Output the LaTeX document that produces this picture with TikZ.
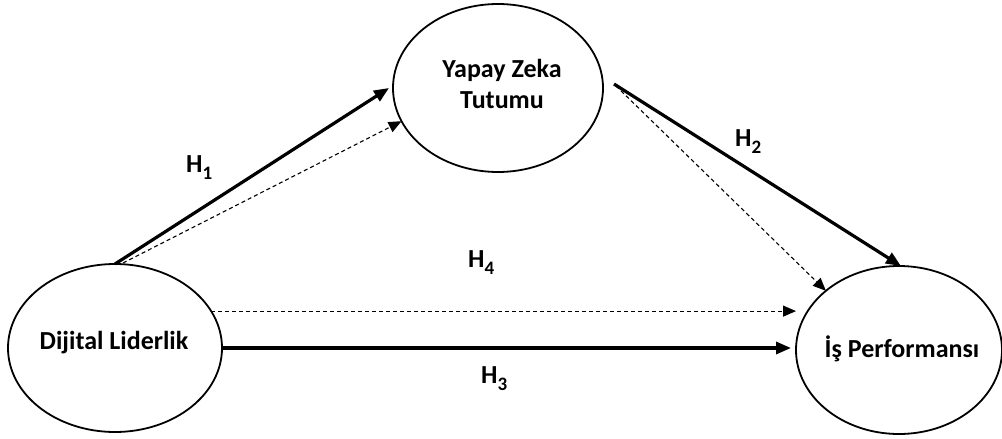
\documentclass[tikz,border=0pt]{standalone}
\usepackage{fontspec}
\setmainfont{Carlito}
\usetikzlibrary{shapes.geometric,arrows.meta}
\begin{document}
\begin{tikzpicture}[x=1pt,y=-1pt,
  oval/.style={ellipse,draw,line width=1.8pt,inner sep=0pt,outer sep=0pt},
  txt/.style={font=\fontsize{26}{31}\selectfont\bfseries,inner sep=0pt,align=center},
  hlab/.style={font=\fontsize{26}{31}\selectfont\bfseries,inner sep=0pt,anchor=base west},
  solidarr/.style={line width=3.2pt,-{Triangle[length=15pt,width=12pt]}},
  dasharr/.style={line width=1.1pt,dash pattern=on 4pt off 3pt,-{Triangle[length=13pt,width=11pt]}}]
\useasboundingbox (0,0) rectangle (1002,439);
\node[oval,minimum width=214pt,minimum height=168pt] (dl) at (115,348) {};
\node[oval,minimum width=210pt,minimum height=168pt] (yz) at (498,88) {};
\node[oval,minimum width=206pt,minimum height=168pt] (ip) at (899,350) {};
\node[txt,anchor=base] (dlt) at (114,349) {Dijital Liderlik};
\node[txt] (yzt) at (502,84) {Yapay Zeka\\Tutumu};
\node[txt,anchor=base] (ipt) at (902,357) {İş Performansı};
% arrows
\draw[solidarr] (dl.north) -- ([xshift=-4pt]yz.west);
\draw[dasharr] ([xshift=8pt,yshift=1pt]dl.north) -- (yz.199);
\draw[solidarr] ([xshift=11pt,yshift=4pt]yz.east) -- ([xshift=2pt]ip.north);
\draw[dasharr] ([xshift=13pt,yshift=2pt]yz.east) -- (ip.141);
\draw[dasharr] (dl.21) -- (dl.21 -| ip.west);
\draw[solidarr,shorten >=5pt] (dl.east) -- (dl.east -| ip.west);
% labels
\newcommand{\hsub}[1]{H\raisebox{-7pt}{\fontsize{19}{19}\selectfont #1}}
\node[hlab] (h1) at (186,172) {\hsub{1}};
\node[hlab] (h2) at (735,146) {\hsub{2}};
\node[hlab] (h4) at (468,267) {\hsub{4}};
\node[hlab] (h3) at (481,383) {\hsub{3}};
\end{tikzpicture}
\end{document}
